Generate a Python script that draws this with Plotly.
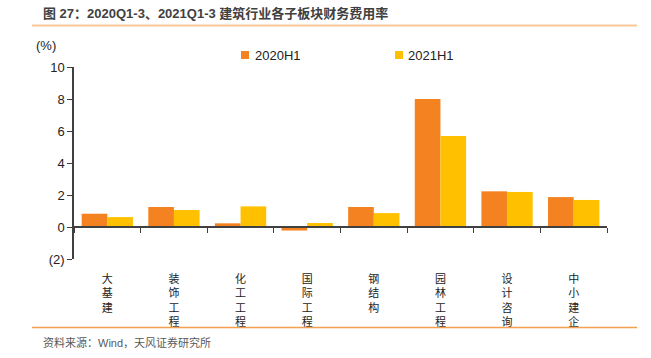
import plotly.graph_objects as go

categories = ["大基建", "装饰工程", "化工工程", "国际工程", "钢结构", "园林工程", "设计咨询", "中小建企"]
series_2020 = [0.83, 1.25, 0.23, -0.22, 1.25, 8.0, 2.23, 1.87]
series_2021 = [0.62, 1.06, 1.29, 0.25, 0.87, 5.69, 2.19, 1.69]
series_names = ["2020H1", "2021H1"]
ytick_vals = [-2, 0, 2, 4, 6, 8, 10]
ytick_text = ["(2)", "0", "2", "4", "6", "8", "10"]

C1 = "#F58220"
C2 = "#FFC000"
FONT = "Liberation Sans, Arial, Noto Sans CJK SC"
AX = "#404040"

W, H = 651, 358
L, T = 74, 67
R = W - 607
B = H - 259
PW, PH = W - L - R, H - T - B


def px(x):
    return (x - L) / PW


def py(y):
    return (H - B - y) / PH


vert_labels = ["<br>".join(list(c)) for c in categories]

fig = go.Figure()
fig.add_trace(go.Bar(x=vert_labels, y=series_2020, name=series_names[0],
                     marker=dict(color=C1, line=dict(width=0)), showlegend=False))
fig.add_trace(go.Bar(x=vert_labels, y=series_2021, name=series_names[1],
                     marker=dict(color=C2, line=dict(width=0)), showlegend=False))
# invisible trace to carry the zero-positioned category axis
fig.add_trace(go.Scatter(x=vert_labels, y=[0] * len(categories), xaxis="x2",
                         mode="markers", marker=dict(opacity=0), showlegend=False,
                         hoverinfo="skip"))

fig.update_layout(
    width=W, height=H,
    margin=dict(l=L, r=R, t=T, b=B),
    plot_bgcolor="white", paper_bgcolor="white",
    font=dict(family=FONT, size=12, color="#222222"),
    barmode="group", bargap=0.23, bargroupgap=0,
    xaxis=dict(type="category", showline=False, ticks="", showgrid=False,
               zeroline=False, tickfont=dict(size=11, color="#222222"),
               ticklabelstandoff=12),
    xaxis2=dict(type="category", overlaying="x", matches="x", anchor="free",
                position=2 / 12, showline=True, linecolor=AX, linewidth=1.5,
                ticks="outside", tickson="boundaries", ticklen=5, tickcolor=AX,
                showticklabels=False, showgrid=False, zeroline=False),
    yaxis=dict(range=[-2, 10], tickvals=ytick_vals, ticktext=ytick_text,
               showline=True, linecolor=AX, linewidth=1.5, ticks="outside",
               ticklen=5, tickcolor=AX, showgrid=False, zeroline=False,
               tickfont=dict(size=13, color="#222222")),
)

shapes = [
    dict(type="line", xref="paper", yref="paper", x0=px(32), x1=px(637),
         y0=py(25.5), y1=py(25.5), line=dict(color="#F8C89A", width=2)),
    dict(type="line", xref="paper", yref="paper", x0=px(32), x1=px(637),
         y0=py(327.5), y1=py(327.5), line=dict(color="#F5A050", width=1.5)),
    dict(type="rect", xref="paper", yref="paper", x0=px(241), x1=px(249),
         y0=py(59), y1=py(51), fillcolor=C1, line=dict(width=0)),
    dict(type="rect", xref="paper", yref="paper", x0=px(395), x1=px(403),
         y0=py(59), y1=py(51), fillcolor=C2, line=dict(width=0)),
]
fig.update_layout(shapes=shapes)

annotations = [
    dict(text="<b>图 27：2020Q1-3、2021Q1-3 建筑行业各子板块财务费用率</b>",
         x=px(41), y=py(13), xanchor="left", yanchor="middle",
         font=dict(size=13, color="#404040")),
    dict(text="(%)", x=px(58), y=py(45), xanchor="right", yanchor="middle",
         font=dict(size=13, color="#222222")),
    dict(text=series_names[0], x=px(253), y=py(55), xanchor="left", yanchor="middle",
         font=dict(size=13, color="#222222")),
    dict(text=series_names[1], x=px(406), y=py(55), xanchor="left", yanchor="middle",
         font=dict(size=13, color="#222222")),
    dict(text="资料来源：Wind，天风证券研究所", x=px(41), y=py(342),
         xanchor="left", yanchor="middle", font=dict(size=11, color="#595959")),
]
for a in annotations:
    a.update(xref="paper", yref="paper", showarrow=False)
fig.update_layout(annotations=annotations)

fig.write_html("out.html", config={"displayModeBar": False},
               post_script="document.body.style.margin='0';document.body.style.overflow='hidden';")
